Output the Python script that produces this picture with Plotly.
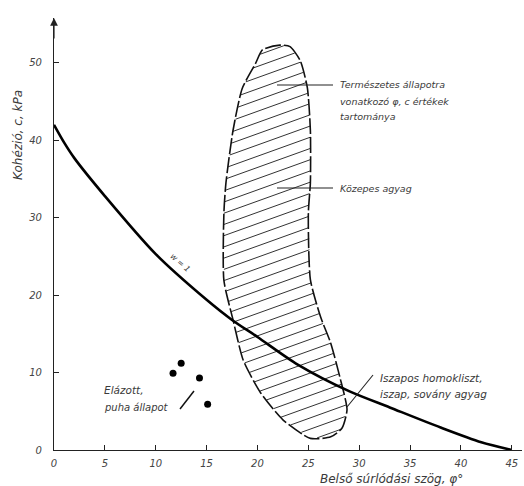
import plotly.graph_objects as go
import numpy as np

# ---- data ----
curve_phi = [0, 1, 2, 5, 10, 15, 17.5, 20, 24, 29, 33, 38, 42, 45]
curve_c = [42.0, 39.7, 37.7, 32.8, 25.3, 19.4, 16.8, 14.6, 11.0, 7.6, 5.5, 2.9, 1.0, 0.0]

region_phi = [22.2, 23.2, 24.2, 24.9, 25.2, 25.2, 25.0, 25.2, 26.2, 27.2, 28.1, 28.8, 28.3,
              27.2, 25.2, 22.5, 20.3, 18.6, 17.6, 16.7, 16.7, 16.9, 17.6, 18.5, 19.8, 20.5, 22.2]
region_c = [52.3, 52.1, 50.3, 46.8, 41.3, 34.5, 30.6, 22.0, 17.2, 13.8, 9.4, 5.2, 2.8,
            1.7, 1.5, 3.9, 7.4, 11.6, 16.8, 21.9, 30.6, 34.5, 41.3, 46.7, 49.9, 51.7, 52.3]

soft_phi = [12.5, 11.7, 14.3, 15.1]
soft_c = [11.2, 9.9, 9.3, 5.9]

x_ticks = [0, 5, 10, 15, 20, 25, 30, 35, 40, 45]
y_ticks = [0, 10, 20, 30, 40, 50]

# ---- geometry helpers (pixel <-> data) ----
W, H = 524, 486
L, R, T, B = 54, 2, 18, 36
XMAX = 46.0
YMAX = 55.8
pw = W - L - R
ph = H - T - B


def dx(px):
    return (px - L) / pw * XMAX


def dy(py):
    return (H - B - py) / ph * YMAX


def qx(px):
    return (px - L) / pw


def qy(py):
    return (H - B - py) / ph


# ---- hatching inside the region (derived from the outline polygon) ----
slope = 0.36 * (pw / XMAX) / (ph / YMAX)
step = 1.45
px_, py_ = np.array(region_phi), np.array(region_c)
hx, hy = [], []
offs = py_ - slope * px_
b = offs.min() + 0.5
while b < offs.max():
    pts = []
    for i in range(len(px_) - 1):
        x1, y1, x2, y2 = px_[i], py_[i], px_[i + 1], py_[i + 1]
        f1 = y1 - slope * x1 - b
        f2 = y2 - slope * x2 - b
        if f1 == f2:
            continue
        if (f1 <= 0 < f2) or (f2 <= 0 < f1):
            t = f1 / (f1 - f2)
            pts.append(x1 + t * (x2 - x1))
    pts.sort()
    for j in range(0, len(pts) - 1, 2):
        hx += [pts[j], pts[j + 1], None]
        hy += [slope * pts[j] + b, slope * pts[j + 1] + b, None]
    b += step

fig = go.Figure()

fig.add_trace(go.Scatter(x=hx, y=hy, mode="lines",
                         line=dict(color="#333333", width=1), hoverinfo="skip", showlegend=False))
fig.add_trace(go.Scatter(x=region_phi, y=region_c, mode="lines",
                         line=dict(color="#111111", width=1.6, dash="16px,3px", shape="spline", smoothing=0.6),
                         showlegend=False))
fig.add_trace(go.Scatter(x=curve_phi, y=curve_c, mode="lines",
                         line=dict(color="#000000", width=2.6, shape="spline", smoothing=0.8),
                         cliponaxis=False, showlegend=False))
fig.add_trace(go.Scatter(x=soft_phi, y=soft_c, mode="markers",
                         marker=dict(color="#000000", size=7), showlegend=False))

# leader lines (annotation pointers, placed in pixel terms)
leaders = [((277, 85), (333, 85)), ((277, 188), (333, 188)),
           ((373, 375), (347, 407))]
lx, ly = [], []
for (a, c) in leaders:
    lx += [dx(a[0]), dx(c[0]), None]
    ly += [dy(a[1]), dy(c[1]), None]
fig.add_trace(go.Scatter(x=lx, y=ly, mode="lines", line=dict(color="#222222", width=1.1),
                         hoverinfo="skip", showlegend=False))
fig.add_trace(go.Scatter(x=[dx(180), dx(194)], y=[dy(409), dy(391)], mode="lines",
                         line=dict(color="#111111", width=1.5), hoverinfo="skip", showlegend=False))

TXT = "#3a3a3a"


def label(px, py, text, size=10, angle=0, anchor="left"):
    fig.add_annotation(x=qx(px), y=qy(py), xref="paper", yref="paper", text=text,
                       showarrow=False, xanchor=anchor, yanchor="middle", textangle=angle,
                       font=dict(family="DejaVu Sans", size=size, color=TXT, style="italic"))


label(338, 84, "Természetes állapotra", size=9.5)
label(338, 101, "vonatkozó φ, c értékek", size=9.5)
label(338, 117, "tartománya", size=9.5)
label(338, 188, "Közepes agyag", size=9.5)
label(378, 378, "Iszapos homokliszt,", size=10.5)
label(378, 394, "iszap, sovány agyag", size=10.5)
label(102, 390, "Elázott,", size=10.5)
label(102, 407, "puha állapot", size=10)
label(180, 262, "w = 1", size=8, angle=41, anchor="center")
label(18, 135, "Kohézió, c, kPa", size=12, angle=-90, anchor="center")
label(318, 479, "Belső súrlódási szög, φ°", size=12)

# arrow on y axis
fig.add_annotation(x=0, y=1, xref="paper", yref="paper", ax=0, ay=22, axref="pixel", ayref="pixel",
                   showarrow=True, arrowhead=2, arrowsize=1.3, arrowwidth=1.2, arrowcolor="#222222", text="")

axis_common = dict(showgrid=False, zeroline=False, showline=True, linecolor="#222222", linewidth=1.2,
                   ticks="inside", ticklen=5, tickcolor="#222222", tickwidth=1,
                   tickfont=dict(family="DejaVu Sans", size=10, color="#444444", style="italic"))

fig.update_xaxes(range=[0, XMAX], tickvals=x_ticks, ticktext=[str(v) for v in x_ticks],
                 ticklabelstandoff=4, **axis_common)
fig.update_yaxes(range=[0, YMAX], tickvals=y_ticks, ticktext=[str(v) for v in y_ticks],
                 ticklabelstandoff=9, **axis_common)

fig.update_layout(width=W, height=H, margin=dict(l=L, r=R, t=T, b=B),
                  plot_bgcolor="white", paper_bgcolor="white", showlegend=False)

fig.write_html("out.html")
